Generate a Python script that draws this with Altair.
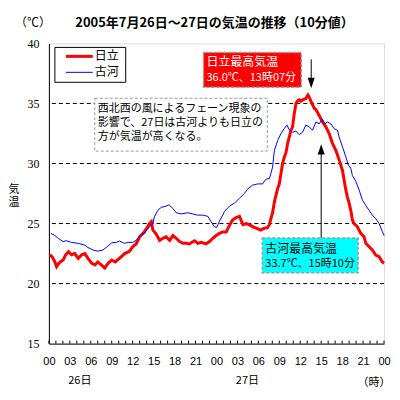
import altair as alt
import pandas as pd

# ---- data (hours from 26th 00:00) ----
hitachi_h = [0.15, 0.5, 0.86, 1.1, 1.33, 1.6, 2.04, 2.4, 2.8, 3.24, 3.7, 4.2, 4.7, 5.14, 5.6, 6.1, 6.6, 7.0,
             7.5, 8.0, 8.5, 9.0, 9.5, 10.1, 10.86, 11.57, 12.0, 12.5, 13.0, 13.5, 14.0, 14.43, 14.67, 14.9,
             15.3, 15.86, 16.33, 16.8, 17.3, 17.76, 18.24, 18.71, 19.2, 19.7, 20.1, 20.86, 21.33, 21.8, 22.5,
             23.0, 23.47, 23.96, 24.43, 24.9, 25.4, 25.86, 26.3, 26.8, 27.3, 27.8, 28.3, 28.8, 29.3, 29.8,
             30.3, 30.8, 31.3, 31.57, 31.8, 32.04, 32.3, 32.5, 32.76, 33.0, 33.25, 33.47, 33.7, 33.96, 34.2,
             34.43, 34.67, 34.9, 35.14, 35.39, 35.6, 35.86, 36.1, 36.33, 36.8, 37.1, 37.3, 37.53, 37.76, 38.0,
             38.24, 38.71, 39.19, 39.67, 40.14, 40.6, 41.1, 41.57, 42.04, 42.29, 42.53, 42.76, 43.0, 43.24,
             43.47, 43.71, 44.19, 44.67, 45.14, 45.39, 45.86, 46.33, 46.81, 47.29, 47.76, 48.0]
hitachi_t = [22.4, 22.2, 21.8, 21.4, 21.6, 21.8, 21.96, 22.4, 22.65, 22.4, 22.5, 22.1, 22.4, 22.5, 22.1, 21.7,
             21.55, 21.8, 21.55, 21.3, 21.7, 21.96, 21.8, 22.1, 22.5, 22.7, 23.07, 23.3, 23.9, 24.18, 24.6,
             25.0, 25.15, 24.45, 24.18, 23.6, 23.77, 23.9, 23.6, 24.0, 23.77, 23.5, 23.35, 23.35, 23.3, 23.57,
             23.35, 23.43, 23.3, 23.5, 23.77, 24.0, 24.18, 24.3, 24.3, 24.85, 25.3, 25.5, 25.6, 24.9, 25.0,
             24.87, 24.7, 24.6, 24.45, 24.6, 24.65, 24.9, 25.4, 25.9, 26.8, 27.3, 27.9, 28.3, 29.2, 30.0, 30.5,
             30.9, 31.7, 32.2, 32.77, 33.05, 34.15, 35.0, 35.2, 35.3, 35.2, 35.3, 35.4, 35.7, 35.5, 35.2, 34.9,
             34.6, 34.5, 34.0, 33.46, 33.05, 32.5, 31.7, 31.1, 30.3, 29.44, 28.6, 27.8, 27.2, 26.7, 26.1, 25.3,
             25.0, 24.73, 24.18, 23.9, 23.35, 23.07, 22.8, 22.38, 22.24, 21.8, 21.7]

koga_h = [0.3, 0.86, 1.33, 2.04, 2.5, 3.24, 4.2, 5.14, 5.6, 6.3, 7.0, 7.76, 8.2, 9.0, 9.7, 10.1, 10.86, 11.3,
          12.0, 12.5, 12.76, 13.24, 13.7, 14.2, 14.9, 15.1, 15.6, 16.1, 16.8, 17.2, 17.76, 18.24, 18.96, 19.9,
          20.6, 21.3, 22.0, 22.76, 23.24, 23.7, 24.04, 24.43, 24.9, 25.14, 25.86, 26.57, 27.3, 28.0, 28.5, 29.2,
          29.9, 30.6, 31.1, 31.57, 31.8, 32.04, 32.3, 32.76, 33.24, 33.7, 34.1, 34.43, 34.9, 35.39, 35.86,
          36.33, 36.8, 37.29, 37.76, 38.24, 38.71, 39.17, 39.5, 39.9, 40.39, 40.86, 41.33, 41.57, 42.04, 42.53,
          42.9, 43.24, 43.47, 43.96, 44.43, 44.9, 45.39, 45.86, 46.33, 46.81, 47.29, 47.67, 48.0]
koga_t = [24.18, 24.0, 23.77, 23.5, 23.57, 23.43, 23.35, 23.2, 23.0, 22.8, 22.7, 22.8, 23.0, 23.4, 23.43, 23.54,
          23.35, 23.43, 23.43, 23.6, 23.77, 24.1, 24.18, 24.6, 25.0, 25.56, 26.1, 26.35, 26.45, 26.56, 26.26,
          25.9, 25.8, 25.9, 25.8, 25.7, 25.7, 25.6, 25.15, 24.73, 24.68, 25.2, 25.7, 26.0, 26.45, 26.7, 27.1,
          27.5, 27.9, 28.2, 28.3, 28.3, 28.7, 28.75, 29.17, 29.7, 31.1, 31.9, 32.5, 32.9, 33.2, 32.8, 32.6, 32.7,
          32.4, 32.6, 33.2, 33.05, 32.77, 33.46, 33.3, 33.7, 33.3, 33.46, 33.3, 32.9, 32.77, 32.2, 31.4, 30.55,
          29.86, 29.6, 29.0, 28.5, 27.8, 26.95, 26.5, 26.1, 25.7, 25.4, 25.0, 24.45, 24.0]

grid_values = [20, 25, 30, 35]
y_ticks = [15, 20, 25, 30, 35, 40]
x_label_hours = list(range(0, 49, 3))
minor_tick_hours = list(range(0, 49))
series_names = ["日立", "古河"]
series_colors = ["#FF0000", "#0000FF"]

W, H = 336, 301
JP = "Noto Sans CJK JP"

xscale = alt.Scale(domain=[0, 48], nice=False, zero=False)
yscale = alt.Scale(domain=[15, 40], nice=False, zero=False)

df_h = pd.DataFrame({"hour": hitachi_h, "temp": hitachi_t})
df_k = pd.DataFrame({"hour": koga_h, "temp": koga_t})

one = pd.DataFrame({"a": [0]})

x_axis = alt.Axis(values=x_label_hours, labelExpr="(datum.value % 24 < 10 ? '0' : '') + (datum.value % 24)",
                  grid=False, ticks=False, labelPadding=12, labelFont="Liberation Sans",
                  labelFontSize=11, labelColor="black", domainColor="black", title=None,
                  labelFlush=False, labelOverlap=False, labelBound=False)
y_axis = alt.Axis(values=y_ticks, grid=False, ticks=False, labelPadding=10, labelFont="Liberation Serif",
                  labelFontSize=12, labelColor="black", domainColor="black", title=None,
                  labelOverlap=False)

grid = alt.Chart(pd.DataFrame({"g": grid_values})).mark_rule(
    color="black", strokeDash=[4, 3], strokeWidth=1).encode(
    y=alt.Y("g:Q", scale=yscale, axis=y_axis))

base_x = alt.Chart(pd.DataFrame({"t": minor_tick_hours})).mark_rule(color="black", strokeWidth=1).encode(
    x=alt.X("t:Q", scale=xscale, axis=x_axis), y=alt.value(H), y2=alt.value(H - 3))

line_h = alt.Chart(df_h).mark_line(color=series_colors[0], strokeWidth=3).encode(
    x=alt.X("hour:Q", scale=xscale, axis=x_axis), y=alt.Y("temp:Q", scale=yscale, axis=y_axis))
line_k = alt.Chart(df_k).mark_line(color=series_colors[1], strokeWidth=1).encode(
    x=alt.X("hour:Q", scale=xscale, axis=x_axis), y=alt.Y("temp:Q", scale=yscale, axis=y_axis))


def box(x1, x2, y1, y2, fill, stroke, dash=None, sw=1):
    kw = dict(fill=fill, stroke=stroke, strokeWidth=sw)
    if dash:
        kw["strokeDash"] = dash
    return alt.Chart(one).mark_rect(**kw).encode(
        x=alt.value(x1), x2=alt.value(x2), y=alt.value(y1), y2=alt.value(y2))


def txt(s, x, y, size=12, color="black", align="left", font=JP, weight="normal"):
    return alt.Chart(one).mark_text(text=s, fontSize=size, color=color, align=align, baseline="middle",
                                    font=font, fontWeight=weight).encode(x=alt.value(x), y=alt.value(y))


def mtxt(s, x, y, size, line_h, align="left"):
    return alt.Chart(one).mark_text(text=s, fontSize=size, color="black", align=align, baseline="top",
                                    font=JP, lineBreak="\n", lineHeight=line_h).encode(
        x=alt.value(x), y=alt.value(y))


def seg(x1, y1, x2, y2, color="black", sw=1):
    return alt.Chart(one).mark_rule(color=color, strokeWidth=sw).encode(
        x=alt.value(x1), x2=alt.value(x2), y=alt.value(y1), y2=alt.value(y2))


def head(x, y, path):
    return alt.Chart(one).mark_point(shape=path, filled=True, color="black", opacity=1, size=49,
                                     strokeWidth=0).encode(x=alt.value(x), y=alt.value(y))


layers = [
    grid, base_x, line_h, line_k,
    # legend
    box(6, 77, 4, 39, "white", "black"),
    seg(17, 13, 44, 13, series_colors[0], 3),
    seg(17, 29, 44, 29, series_colors[1], 1),
    txt(series_names[0], 46, 13),
    txt(series_names[1], 46, 29),
    # explanation box
    box(46, 219, 55, 108, "white", "#999999", [3, 2]),
    mtxt("西北西の風によるフェーン現象の\n影響で、27日は古河よりも日立の\n方が気温が高くなる。", 49, 60, 11, 14),
    # Hitachi max box
    box(155, 253, 9, 44, "#FF0000", "#999999", [3, 2], 1.5),
    txt("日立最高気温", 158, 19, 12, "white"),
    txt("36.0℃、13時07分", 158, 35, 11, "white"),
    seg(263, 16, 263, 38),
    head(263, 45, "M-1,-3L1,-3L0,0Z"),
    # Koga max box
    seg(273, 108, 273, 195),
    head(273, 101, "M-1,3L1,3L0,0Z"),
    box(214, 310, 195, 230, "#00FFFF", "#999999", [3, 2], 1.5),
    txt("古河最高気温", 217, 206, 12),
    txt("33.7℃、15時10分", 217, 221, 11),
    # titles and extra labels
    txt("2005年7月26日～27日の気温の推移（10分値）", 166, -20, 13, align="center", weight="bold"),
    txt("（℃）", -16, -20, 12, align="center"),
    mtxt("気\n温", -35, 141, 11, 13, align="center"),
    txt("26日", 31, 338, 11, align="center"),
    txt("27日", 199, 338, 11, align="center"),
    txt("（時）", 326, 340, 11, align="center"),
]

chart = alt.layer(*layers).properties(
    width=W, height=H,
    autosize=alt.AutoSizeParams(type="none"),
    padding={"left": 41, "top": 35, "right": 8, "bottom": 46},
).configure_view(stroke="#808080", strokeWidth=1).configure(background="white")

chart.save("out.html", embed_options={"renderer": "svg", "actions": False})
